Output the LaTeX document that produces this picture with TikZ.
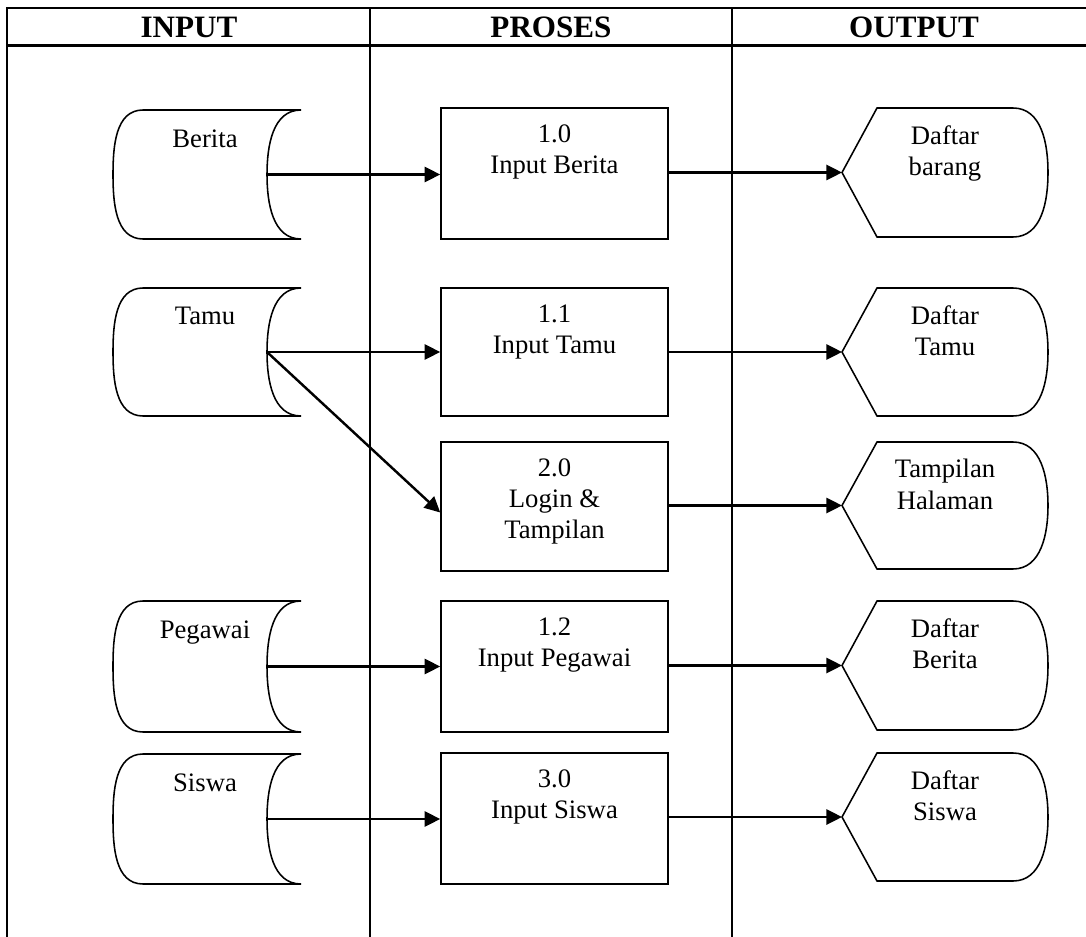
\documentclass[tikz,border=0pt]{standalone}
\usepackage{fontspec}
\setmainfont{Liberation Serif}
\usetikzlibrary{arrows.meta}
\tikzset{
  grid/.style={line width=1pt},
  shp/.style={line width=0.7pt},
  arr/.style={line width=1.1pt,-{Triangle[length=7pt,width=6.8pt]}},
  boxnode/.style={draw,line width=0.7pt,minimum width={227*0.45pt},minimum height={#1*0.45pt},inner sep=0pt},
  lbl/.style={anchor=north,inner sep=0pt,align=center,font=\fontsize{12}{14}\selectfont},
  hdr/.style={anchor=base,inner sep=0pt,font=\fontsize{14}{16}\selectfont\bfseries}
}
\newcommand\storshape[4]{% name, T, B, text
  \pgfmathsetmacro\mM{(#2+#3)/2}
  \draw[shp] (143,#2) to[out=180,in=90] (113,\mM) to[out=-90,in=180] (143,#3)
    -- (301,#3) to[out=180,in=-90] (267,\mM) to[out=90,in=180] (301,#2) -- cycle;
  \coordinate (#1) at (267,\mM);
  \node[lbl] (#1t) at (205,#2+19) {#4};
}
\newcommand\dispshape[4]{% name, T, B, text
  \pgfmathsetmacro\mM{(#2+#3)/2}
  \draw[shp] (842,\mM) -- (877,#2) -- (1013,#2) to[out=0,in=90] (1048,\mM)
    to[out=-90,in=0] (1013,#3) -- (877,#3) -- cycle;
  \coordinate (#1) at (842,\mM);
  \node[lbl] (#1t) at (945,#2+17) {#4};
}
\newcommand\procbox[4]{% name, T, B, text
  \pgfmathsetmacro\mM{(#2+#3)/2}
  \pgfmathsetmacro\hH{#3-#2}
  \node[boxnode=\hH] (#1) at (554.5,\mM) {};
  \node[lbl] (#1t) at (554.5,#2+16) {#4};
}
\begin{document}
\begin{tikzpicture}[x=0.45pt,y=-0.45pt]
\useasboundingbox (0,0) rectangle (1086,937);
% table frame
\draw[grid] (1086,8) -- (7,8) -- (7,937);
\draw[grid] (7,45.5) -- (1086,45.5);
\draw[grid] (370,8) -- (370,937);
\draw[grid] (732,8) -- (732,937);
\node[hdr] (hin) at (189,38) {INPUT};
\node[hdr] (hpr) at (551,38) {PROSES};
\node[hdr] (hout) at (914,38) {OUTPUT};
% inputs
\storshape{s1}{110}{239}{Berita}
\storshape{s2}{288}{416}{Tamu}
\storshape{s4}{601}{732}{Pegawai}
\storshape{s5}{754}{884}{Siswa}
% processes
\procbox{b1}{108}{239}{1.0\\Input Berita}
\procbox{b2}{288}{416}{1.1\\Input Tamu}
\procbox{b3}{442}{571}{2.0\\Login \&\\Tampilan}
\procbox{b4}{601}{732}{1.2\\Input Pegawai}
\procbox{b5}{753}{884}{3.0\\Input Siswa}
% outputs
\dispshape{d1}{108}{237}{Daftar\\barang}
\dispshape{d2}{288}{416}{Daftar\\Tamu}
\dispshape{d3}{442}{569}{Tampilan\\Halaman}
\dispshape{d4}{601}{730}{Daftar\\Berita}
\dispshape{d5}{753}{881}{Daftar\\Siswa}
% connectors
\draw[arr] (s1) -- (s1 -| b1.west);
\draw[arr] (s2) -- (s2 -| b2.west);
\draw[arr] (s2) -- ([yshift=-2.7pt]b3.west);
\draw[arr] (s4) -- (s4 -| b4.west);
\draw[arr] (s5) -- (s5 -| b5.west);
\draw[arr] (d1 -| b1.east) -- (d1);
\draw[arr] (d2 -| b2.east) -- (d2);
\draw[arr] (d3 -| b3.east) -- (d3);
\draw[arr] (d4 -| b4.east) -- (d4);
\draw[arr] (d5 -| b5.east) -- (d5);
\end{tikzpicture}
\end{document}
